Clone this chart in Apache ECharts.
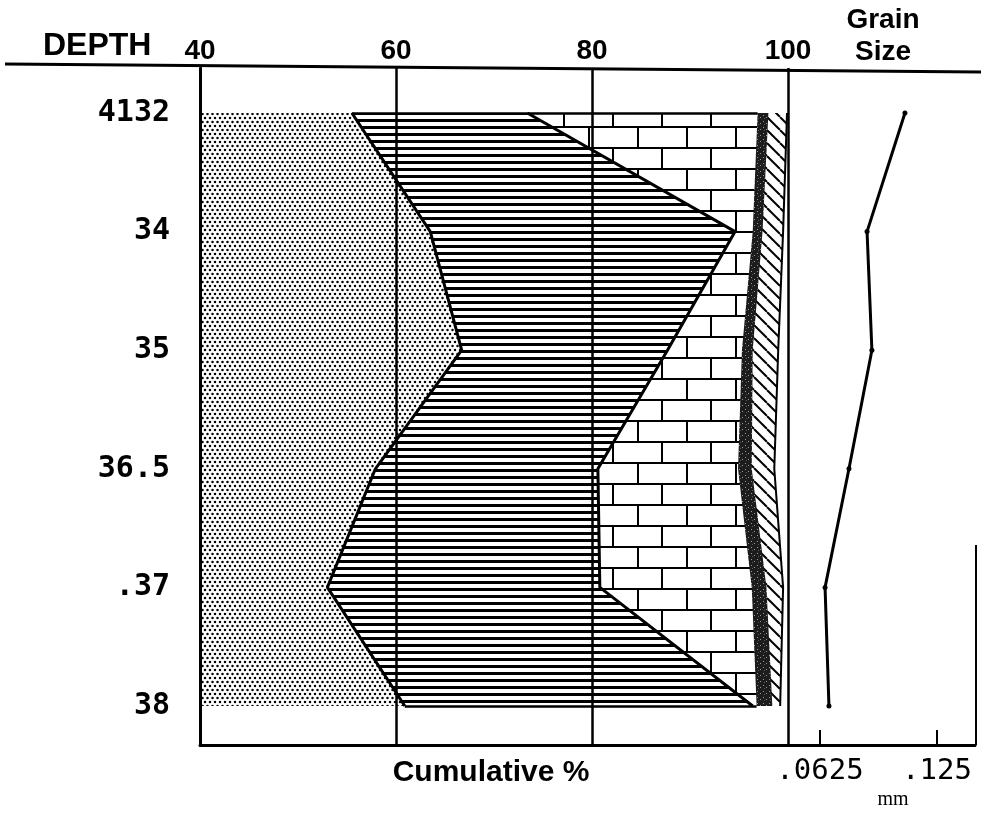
<!DOCTYPE html>
<html>
<head>
<meta charset="utf-8">
<title>Cumulative % and grain size by depth</title>
<script src="https://cdn.jsdelivr.net/npm/echarts@6.0.0/dist/echarts.min.js"></script>
<style>
html, body { margin: 0; padding: 0; background: #fff; }
#chart { width: 981px; height: 817px; }
</style>
</head>
<body>
<div id="chart"></div>
<script>
// depth rows, top to bottom
const depths = ['4132', '34', '35', '36.5', '.37', '38'];
// cumulative % at the right edge of each band
const sandCum = [55.5, 63.5, 66.7, 57.9, 53.0, 60.9];
const shaleCum = [73.4, 94.6, 87.7, 80.6, 80.8, 96.4];
const limeCum = [96.9, 96.4, 95.3, 94.9, 96.3, 96.8];
const darkCum = [98.0, 97.4, 96.4, 96.3, 97.8, 98.4];
const dolCum = [99.9, 99.5, 99.0, 98.6, 99.5, 99.2];
// grain size, mm
const grainMm = [0.1034, 0.0826, 0.0850, 0.0742, 0.0644, 0.0659];
const grainTicks = [0.0625, 0.125];
const grainTickLabels = ['.0625', '.125'];

// fill patterns
function tile(w, h, draw, bg) {
  const c = document.createElement('canvas');
  c.width = w;
  c.height = h;
  const ctx = c.getContext('2d');
  ctx.fillStyle = bg || '#fff';
  ctx.fillRect(0, 0, w, h);
  ctx.fillStyle = '#000';
  ctx.strokeStyle = '#000';
  draw(ctx);
  return { image: c, repeat: 'repeat' };
}

const dots = tile(10, 8, ctx => {
  [[2.5, 2], [7.5, 2], [0, 6], [5, 6], [10, 6]].forEach(p => {
    ctx.beginPath();
    ctx.arc(p[0], p[1], 1.25, 0, Math.PI * 2);
    ctx.fill();
  });
});
const stripes = tile(4, 7, ctx => {
  ctx.fillRect(0, 0, 4, 3);
});
const bricks = tile(98, 42, ctx => {
  ctx.fillRect(0, 0, 98, 2);
  ctx.fillRect(0, 21, 98, 2);
  ctx.fillRect(0, 0, 2, 21);
  ctx.fillRect(49, 0, 2, 21);
  ctx.fillRect(24, 21, 2, 21);
  ctx.fillRect(73, 21, 2, 21);
});
const speckle = tile(6, 6, ctx => {
  ctx.fillStyle = '#999';
  ctx.fillRect(1, 1, 1, 1);
  ctx.fillRect(4, 3, 1, 1);
  ctx.fillStyle = '#555';
  ctx.fillRect(2, 4, 1, 1);
}, '#1c1c1c');
const hatch = tile(13, 13, ctx => {
  ctx.lineWidth = 2;
  [-13, 0, 13].forEach(k => {
    ctx.beginPath();
    ctx.moveTo(k, 0);
    ctx.lineTo(k + 13, 13);
    ctx.stroke();
  });
});

function band(name, data, fill, lineW) {
  return {
    name: name,
    type: 'line',
    xAxisIndex: 2,
    yAxisIndex: 1,
    data: data,
    symbol: 'none',
    silent: true,
    lineStyle: { color: '#000', width: lineW },
    areaStyle: { color: fill, opacity: 1, origin: 'start' }
  };
}

const shaleSeries = band('shale', shaleCum, stripes, 3);
shaleSeries.markLine = {
  symbol: 'none',
  silent: true,
  label: { show: false },
  lineStyle: { color: '#000', width: 2.5, type: 'solid' },
  data: [
    [{ coord: [sandCum[0], depths[0]] }, { coord: [limeCum[0], depths[0]] }],
    [{ coord: [sandCum[5], depths[5]] }, { coord: [limeCum[5], depths[5]] }]
  ]
};

const chart = echarts.init(document.getElementById('chart'));

chart.setOption({
  animation: false,
  backgroundColor: '#fff',
  grid: [
    { left: 200, right: 193, top: 68, bottom: 72 },
    { left: 200, right: 193, top: 113, bottom: 111 },
    { left: 788, right: 6, top: 113, bottom: 111 }
  ],
  xAxis: [
    {
      gridIndex: 0, type: 'value', position: 'top', min: 40, max: 100, interval: 20,
      axisLine: { show: false }, axisTick: { show: false },
      axisLabel: { color: '#000', fontFamily: 'Liberation Sans', fontWeight: 'bold', fontSize: 28, margin: 3 },
      splitLine: { show: true, lineStyle: { color: '#000', width: 2.5 } },
      z: 10
    },
    {
      gridIndex: 0, type: 'value', position: 'bottom', min: 40, max: 100,
      axisLine: { show: true, lineStyle: { color: '#000', width: 3 } },
      axisTick: { show: false }, axisLabel: { show: false }, splitLine: { show: false },
      z: 10
    },
    { gridIndex: 1, type: 'value', min: 40, max: 100, show: false },
    {
      gridIndex: 2, type: 'log', logBase: 2, min: 0.0517, max: 0.1566,
      position: 'bottom', offset: 39,
      axisLine: { show: true, lineStyle: { color: '#000', width: 3 } },
      axisTick: { show: true, inside: true, length: 15, customValues: grainTicks, lineStyle: { color: '#000', width: 2 } },
      axisLabel: {
        customValues: grainTicks, color: '#000', fontFamily: 'DejaVu Sans Mono', fontSize: 29, margin: 12,
        formatter: v => {
          let best = 0;
          grainTicks.forEach((t, i) => {
            if (Math.abs(Math.log(v / t)) < Math.abs(Math.log(v / grainTicks[best]))) best = i;
          });
          return grainTickLabels[best];
        }
      },
      splitLine: { show: false }
    }
  ],
  yAxis: [
    {
      gridIndex: 0, type: 'value', min: 0, max: 1,
      axisLine: { show: true, lineStyle: { color: '#000', width: 3 } },
      axisTick: { show: false }, axisLabel: { show: false }, splitLine: { show: false },
      z: 10
    },
    {
      gridIndex: 1, type: 'category', inverse: true, boundaryGap: false, data: depths,
      axisLine: { show: false }, axisTick: { show: false }, splitLine: { show: false },
      axisLabel: { interval: 0, color: '#000', fontFamily: 'DejaVu Sans Mono', fontWeight: 'bold', fontSize: 30, margin: 30 }
    },
    {
      gridIndex: 2, type: 'category', inverse: true, boundaryGap: false, data: depths, show: false
    }
  ],
  series: [
    band('dolomite', dolCum, hatch, 2),
    band('dark', darkCum, speckle, 0),
    band('limestone', limeCum, bricks, 0),
    shaleSeries,
    band('sand', sandCum, dots, 3),
    {
      name: 'grain size',
      type: 'line',
      xAxisIndex: 3,
      yAxisIndex: 2,
      data: grainMm,
      symbol: 'circle',
      symbolSize: 5,
      silent: true,
      itemStyle: { color: '#000' },
      lineStyle: { color: '#000', width: 3 }
    }
  ],
  graphic: [
    { type: 'line', silent: true, z: 20, shape: { x1: 5, y1: 64, x2: 981, y2: 72 }, style: { stroke: '#000', lineWidth: 3 } },
    { type: 'line', silent: true, z: 20, shape: { x1: 976, y1: 545, x2: 976, y2: 745 }, style: { stroke: '#000', lineWidth: 2 } },
    { type: 'text', silent: true, x: 43, y: 30, style: { text: 'DEPTH', font: 'bold 32px "Liberation Sans"', fill: '#000' } },
    { type: 'text', silent: true, x: 883, y: 4, style: { text: 'Grain\nSize', align: 'center', font: 'bold 28px "Liberation Sans"', lineHeight: 32, fill: '#000' } },
    { type: 'text', silent: true, x: 491, y: 758, style: { text: 'Cumulative %', align: 'center', font: 'bold 30px "Liberation Sans"', fill: '#000' } },
    { type: 'text', silent: true, x: 893, y: 790, style: { text: 'mm', align: 'center', font: '20px "Liberation Serif"', fill: '#000' } }
  ]
});
</script>
</body>
</html>
